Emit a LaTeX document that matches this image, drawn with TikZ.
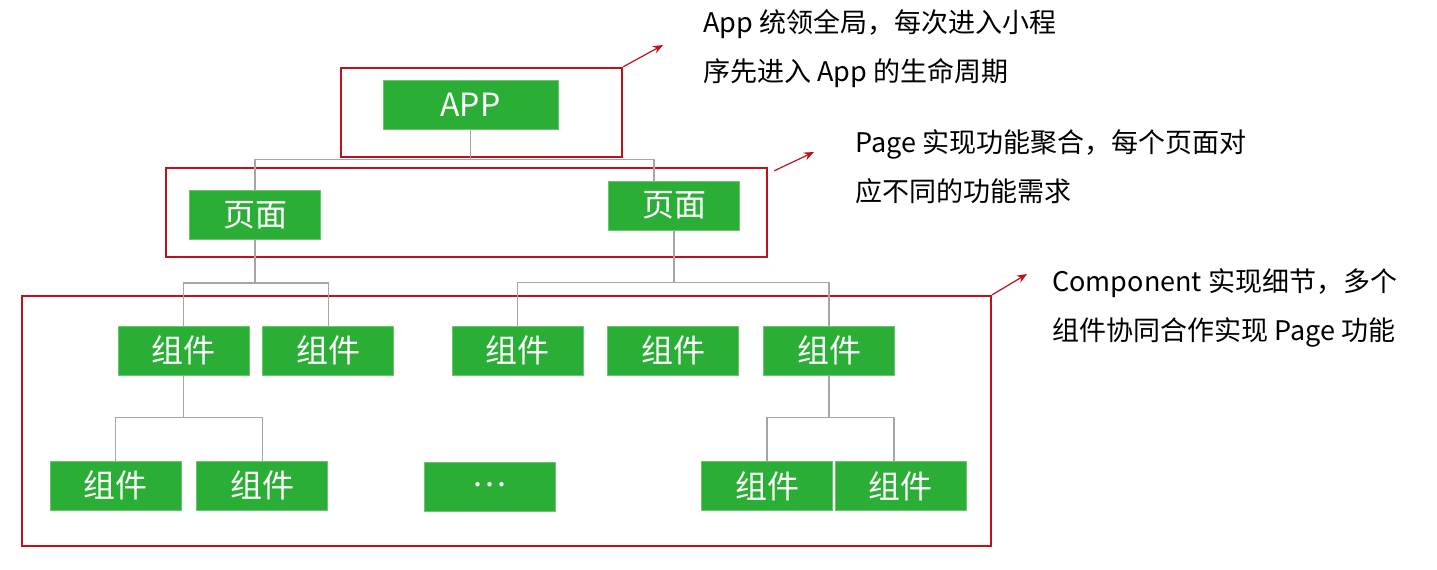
\documentclass[tikz,border=0pt]{standalone}
\usepackage{fontspec}
\setmainfont{Noto Sans CJK SC}
\usetikzlibrary{arrows.meta, positioning, calc}
\definecolor{boxgreen}{RGB}{43, 174, 54}
\definecolor{framered}{RGB}{192, 16, 24}
\definecolor{linegray}{RGB}{166, 166, 166}

\begin{document}
\begin{tikzpicture}[
        x=0.5pt, y=-0.5pt,
        block/.style={rectangle, fill=boxgreen, draw=boxgreen!70!white, line width=0.4pt, text=white, minimum width=65.5pt, minimum height=24.5pt, inner sep=0pt, font=\fontsize{16}{18}\selectfont},
        frame/.style={rectangle, draw=framered, line width=1.2pt, inner sep=0pt},
        conn/.style={draw=linegray, line width=0.7pt},
        note/.style={-{Stealth[length=5pt, width=4pt]}, framered, line width=0.6pt},
        desc/.style={anchor=west, align=left, inner sep=0pt, font=\fontsize{13.5}{24.5}\selectfont}
    ]
        \useasboundingbox (0,0) rectangle (1437,569);

        % frames
        \node[frame, minimum width=140.5pt, minimum height=44.5pt] (f1) at (481.5,112.5) {};
        \node[frame, minimum width=300.5pt, minimum height=44.5pt] (f2) at (466.5,212.5) {};
        \node[frame, minimum width=484.5pt, minimum height=125pt] (f3) at (506.5,421) {};

        % app and pages
        \node[block, minimum width=87.5pt] (app) at (470.5,104.5) {APP};
        \node[block] (p1) at (255,215) {页面};
        \node[block] (p2) at (674,205.5) {页面};

        % components
        \node[block] (c1) at (183.5,350.5) {组件};
        \node[block, right=6.5pt of c1] (c2) {组件};
        \node[block] (c3) at (517.5,350.5) {组件};
        \node[block, right=12pt of c3] (c4) {组件};
        \node[block, right=12pt of c4] (c5) {组件};
        \node[block] (c11) at (115.5,485.5) {组件};
        \node[block, right=7.5pt of c11] (c12) {组件};
        \node[block] (more) at (489.5,486.5) {\raisebox{0.1em}{…}};
        \node[block] (c51) at (767,486) {组件};
        \node[block, right=1pt of c51] (c52) {组件};

        % tree lines
        \coordinate (ja) at ($(app.south)+(0,30)$);
        \coordinate (jb) at ($(p1.south)+(0,43)$);
        \coordinate (jc) at ($(p2.south)+(0,52)$);
        \coordinate (jd) at ($(c1.south)+(0,42)$);
        \coordinate (je) at ($(c5.south)+(0,42)$);
        \draw[conn] (app.south) -- (ja);
        \draw[conn] (p1.north) |- (ja) -| ([xshift=-10pt]p2.north);
        \draw[conn] (p1.south) -- (jb);
        \draw[conn] (c1.north) |- (jb) -| (c2.north);
        \draw[conn] (p2.south) -- (jc);
        \draw[conn] (c3.north) |- (jc) -| (c5.north);
        \draw[conn] (c1.south) -- (jd);
        \draw[conn] (c11.north) |- (jd) -| (c12.north);
        \draw[conn] (c5.south) -- (je);
        \draw[conn] (c51.north) |- (je) -| ([xshift=-3.5pt]c52.north);

        % notes
        \node[desc] (t1) at (703,49) {App 统领全局，每次进入小程\\序先进入 App 的生命周期};
        \node[desc] (t2) at (855,167) {Page 实现功能聚合，每个页面对\\应不同的功能需求};
        \node[desc] (t3) at (1052,307.5) {Component 实现细节，多个\\组件协同合作实现 Page 功能};

        \coordinate (a1) at (663,45);
        \coordinate (a2) at (814,152);
        \coordinate (a3) at (1027,274);
        \draw[note] (f1.north east) -- (a1);
        \draw[note] ([shift={(3pt,-2pt)}]f2.north east) -- (a2);
        \draw[note] (f3.north east) -- (a3);
    \end{tikzpicture}
\end{document}
